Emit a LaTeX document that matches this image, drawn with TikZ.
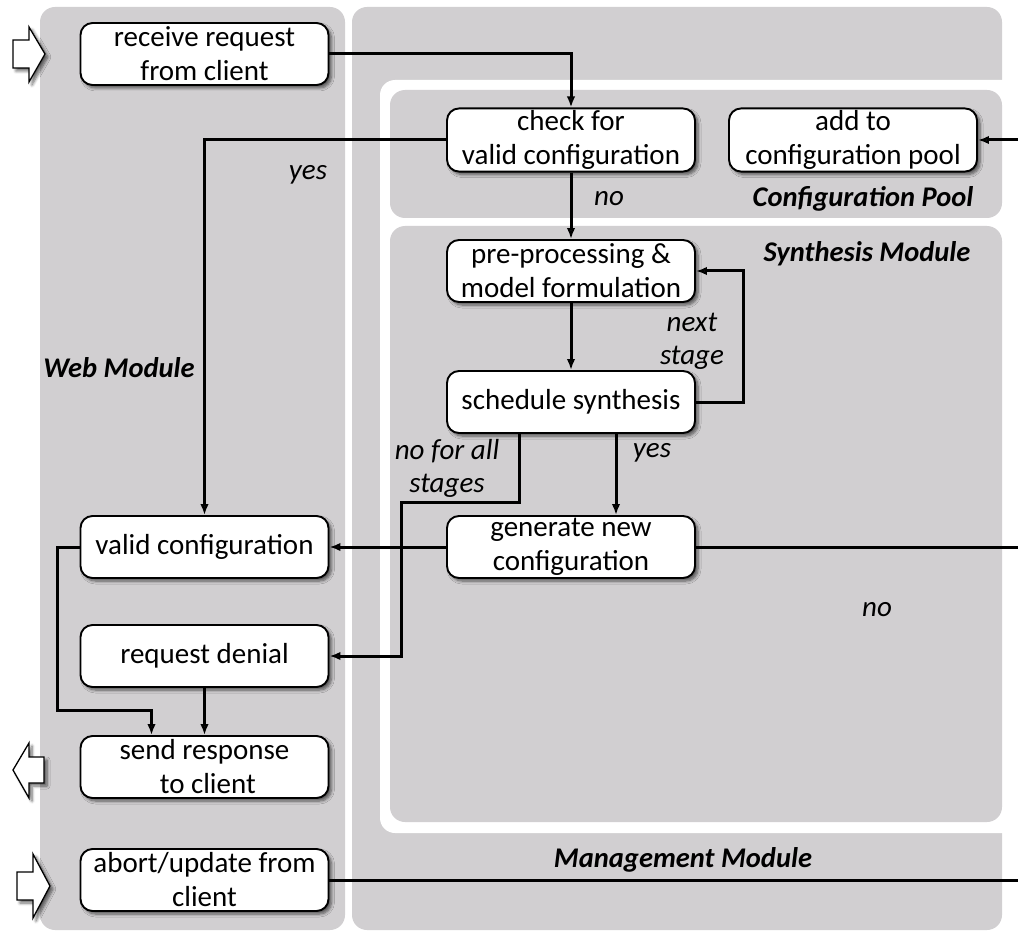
\documentclass[tikz,border=0pt]{standalone}
\usepackage{fontspec}
\setmainfont{Carlito}
\usetikzlibrary{arrows.meta,shadows.blur}
\definecolor{panel}{RGB}{209,207,209}
\tikzset{
  softshadow/.style={blur shadow={shadow xshift=3pt, shadow yshift=-3pt,
      shadow blur steps=6, shadow blur radius=3pt, shadow opacity=60}},
  stepbox/.style={draw=black, line width=1.9pt, fill=white, rounded corners=12pt,
      minimum width=248pt, minimum height=62pt, inner sep=2pt, align=center,
      font=\fontsize{29}{34}\selectfont, softshadow},
  flow/.style={line width=3pt, -{Latex[length=11pt,width=8.5pt]}},
  plainline/.style={line width=3pt},
  lbl/.style={font=\fontsize{29}{33}\selectfont\itshape, align=center},
  module/.style={font=\fontsize{28.5}{33}\selectfont\bfseries\itshape},
  bigarrow/.style={draw=black, line width=1.3pt, fill=white, line join=miter, softshadow},
  area/.style={fill=panel, rounded corners=15pt},
}
\begin{document}
\begin{tikzpicture}[x=1pt, y=-1pt]
\useasboundingbox (0,0) rectangle (1018,936);
\coordinate (edgeR) at (1018,0);

% module backgrounds
\begin{scope}
  \clip (0,0) rectangle (1018,936);
  \fill[area] (40,7) rectangle (345,930);
  \fill[area] (352,7) rectangle (1002,930);
  \fill[white, rounded corners=15pt] (380,80) rectangle (1050,833);
  \fill[area] (390,90) rectangle (1002,218);
  \fill[area] (390,226) rectangle (1002,822);
\end{scope}

% client interface arrows
\path[bigarrow] (13,40) -- (29,40) -- (29,27) -- (45,54) -- (29,82) -- (29,68) -- (13,68) -- cycle;
\path[bigarrow] (44,757) -- (29,757) -- (29,743) -- (13,770) -- (29,798) -- (29,783) -- (44,783) -- cycle;
\path[bigarrow] (17,872) -- (33,872) -- (33,854) -- (50,886) -- (33,918) -- (33,900) -- (17,900) -- cycle;

% process steps
\node[stepbox] (recv)  at (204.5,54)  {receive request\\from client};
\node[stepbox] (check) at (571,140)   {check for\\valid configuration};
\node[stepbox] (add)   at (853,140)   {add to\\configuration pool};
\node[stepbox] (pre)   at (571,271)   {pre-processing \&\\model formulation};
\node[stepbox] (sched) at (571,402)   {schedule synthesis};
\node[stepbox] (gen)   at (571,547)   {generate new\\configuration};
\node[stepbox] (valid) at (204.5,547) {valid configuration};
\node[stepbox] (deny)  at (204.5,656) {request denial};
\node[stepbox] (send)  at (204.5,767) {send response\\\ to client};
\node[stepbox] (abort) at (204.5,880) {abort/update from\\client};

% module titles
\node[module] (webT) at (119,368) {Web Module};
\node[module, anchor=east] (poolT) at (977,199) {Configuration Pool};
\node[module, anchor=east] (synT) at (974,254) {Synthesis Module};
\node[module] (mgmtT) at (683,860) {Management Module};

% branch labels
\node[lbl] (yesA) at (308,175) {yes};
\node[lbl] (noA)  at (609,199) {no};
\node[lbl] (nextL) at (692,341) {next\\stage};
\node[lbl] (yesB) at (652,453) {yes};
\node[lbl] (nfaL) at (447,468) {no for all\\stages};
\node[lbl] (noB)  at (877,610) {no};

% connectors
\coordinate (loopR) at (743,402);
\coordinate (nfaC) at (401,502);
\coordinate (vsC) at (57,710);

\draw[flow] (recv.east) -| (check.north);
\draw[flow] (check.west) -| (valid.north);
\draw[flow] (check.south) -- (pre.north);
\draw[flow] (pre.south) -- (sched.north);
\draw[flow] (sched.east) -- (loopR) |- (pre.east);
\draw[flow] ([xshift=45pt]sched.south) -- ([xshift=45pt]gen.north);
\draw[flow] ([xshift=-52pt]sched.south) |- (nfaC) |- (deny.east);
\draw[flow] (gen.west) -- (valid.east);
\draw[plainline] (gen.east) -- (gen.east -| edgeR);
\draw[flow] (add.east -| edgeR) -- (add.east);
\draw[plainline] (abort.east) -- (abort.east -| edgeR);
\draw[flow] (valid.west) -| (vsC) -| ([xshift=-53pt]send.north);
\draw[flow] (deny.south) -- (send.north);
\end{tikzpicture}
\end{document}
